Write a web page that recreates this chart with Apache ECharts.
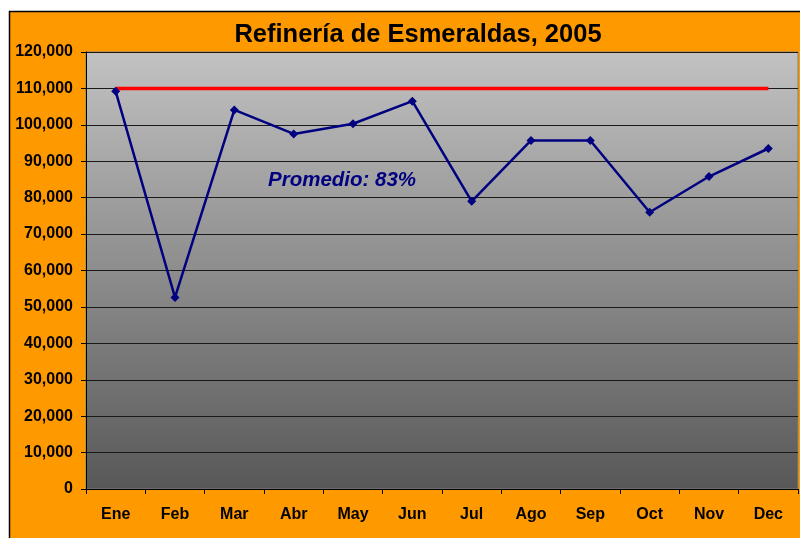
<!DOCTYPE html>
<html><head><meta charset="utf-8">
<script src="https://cdn.jsdelivr.net/npm/echarts@6/dist/echarts.min.js"></script>
<style>html,body{margin:0;padding:0;background:#fff}#c{width:800px;height:538px}</style>
</head><body><div id="c"></div>
<script>
const titleText = 'Refinería de Esmeraldas, 2005';
const categories = ['Ene','Feb','Mar','Abr','May','Jun','Jul','Ago','Sep','Oct','Nov','Dec'];
const production = [109200, 52600, 104100, 97500, 100300, 106500, 79000, 95700, 95700, 76000, 85800, 93500];
const capacity = [110000,110000,110000,110000,110000,110000,110000,110000,110000,110000,110000,110000];
const annotation = 'Promedio: 83%';

const chart = echarts.init(document.getElementById('c'), null, {renderer:'canvas'});
const font = 'Liberation Sans, Arial, sans-serif';
chart.setOption({
  animation:false,
  backgroundColor:'#fff',
  graphic:[
    {type:'rect', z:-10, shape:{x:9.5,y:11.5,width:800,height:540}, style:{fill:'#FF9900', stroke:'#000', lineWidth:1.5}},
    {type:'text', z:100, left:268, top:170, style:{text:annotation, fill:'#000080', font:'italic bold 20.5px '+font}}
  ],
  title:{text:titleText, left:413, top:17, textAlign:'center',
    textStyle:{fontFamily:font, fontWeight:'bold', fontSize:25.5, color:'#000'}},
  grid:{left:86, right:2, top:52, bottom:49, show:true, borderColor:'#808080', borderWidth:1,
    backgroundColor:{type:'linear',x:0,y:0,x2:0,y2:1,colorStops:[{offset:0,color:'#c2c2c2'},{offset:1,color:'#585858'}]}},
  xAxis:{type:'category', data:categories, boundaryGap:true,
    axisLine:{lineStyle:{color:'#000',width:1}},
    axisTick:{show:true, length:5, lineStyle:{color:'#000'}},
    axisLabel:{color:'#000', fontFamily:font, fontWeight:'bold', fontSize:16, margin:18},
    splitLine:{show:false}},
  yAxis:{type:'value', min:0, max:120000, interval:10000,
    axisLine:{show:true, lineStyle:{color:'#000',width:1}},
    axisTick:{show:true, length:5, lineStyle:{color:'#000'}},
    axisLabel:{color:'#000', fontFamily:font, fontWeight:'bold', fontSize:16, margin:13,
      formatter:v=>v.toLocaleString('en-US')},
    splitLine:{show:true, lineStyle:{color:'#1a1a1a', width:1}}},
  series:[
    {type:'line', data:capacity, symbol:'none', lineStyle:{color:'#FF0000', width:3.5}, z:2},
    {type:'line', data:production, symbol:'diamond', symbolSize:9,
      itemStyle:{color:'#000080'}, lineStyle:{color:'#000080', width:2.5}, z:3}
  ]
});
</script></body></html>
